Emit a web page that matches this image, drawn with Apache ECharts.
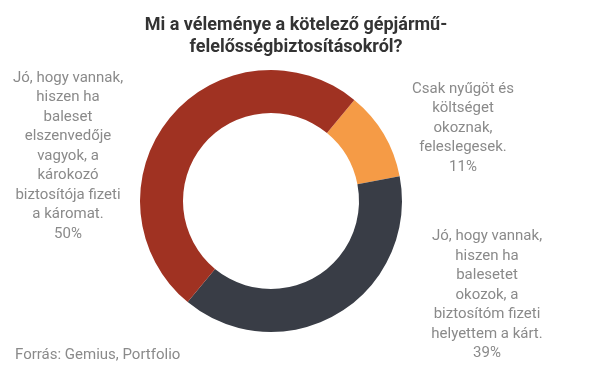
<!DOCTYPE html>
<html>
<head>
<meta charset="utf-8">
<script src="https://cdn.jsdelivr.net/npm/echarts@6/dist/echarts.min.js"></script>
<style>
  html, body { margin: 0; padding: 0; background: #fff; }
  #chart { width: 605px; height: 378px; }
</style>
</head>
<body>
<div id="chart"></div>
<script>
// válaszok (óramutató járásával, a narancs szelettől indulva)
const categories = [
  "Csak nyűgöt és\nköltséget\nokoznak,\nfeleslegesek.",
  "Jó, hogy vannak,\nhiszen ha\nbalesetet\nokozok, a\nbiztosítóm fizeti\nhelyettem a kárt.",
  "Jó, hogy vannak,\nhiszen ha\nbaleset\nelszenvedője\nvagyok, a\nkárokozó\nbiztosítója fizeti\na káromat."
];
const values = [11, 39, 50];
const colors = ["#F59B46", "#393D46", "#A03222"];
// címkék középpontja
const labelPos = [[463, 128], [487, 295], [68, 156]];

const chart = echarts.init(document.getElementById("chart"));
const option = {
  backgroundColor: "#fff",
  title: [
    {
      text: "Mi a véleménye a kötelező gépjármű-\nfelelősségbiztosításokról?",
      left: 296,
      top: 14,
      padding: 0,
      textAlign: "center",
      textStyle: {
        fontFamily: "Roboto",
        fontSize: 18,
        fontWeight: "bold",
        color: "#333333",
        lineHeight: 22,
      },
    },
    {
      text: "Forrás: Gemius, Portfolio",
      left: 15,
      top: 346,
      padding: 0,
      textStyle: {
        fontFamily: "Roboto",
        fontSize: 15,
        fontWeight: "normal",
        color: "#8a8a8a",
        lineHeight: 18,
      },
    },
  ],
  series: [
    {
      type: "pie",
      center: [271, 201],
      radius: [88, 131],
      startAngle: 50.5,
      clockwise: true,
      animation: false,
      silent: true,
      label: {
        show: true,
        position: "outside",
        formatter: "{b}\n{c}%",
        fontFamily: "Roboto",
        fontSize: 15,
        lineHeight: 19.5,
        color: "#8a8a8a",
        align: "center",
      },
      labelLine: { show: false },
      labelLayout(params) {
        const p = labelPos[params.dataIndex];
        return { x: p[0], y: p[1], align: "center", verticalAlign: "middle" };
      },
      itemStyle: { borderWidth: 0 },
      data: values.map((v, i) => ({
        name: categories[i],
        value: v,
        itemStyle: { color: colors[i] },
      })),
    },
  ],
};
chart.setOption(option);
</script>
</body>
</html>
